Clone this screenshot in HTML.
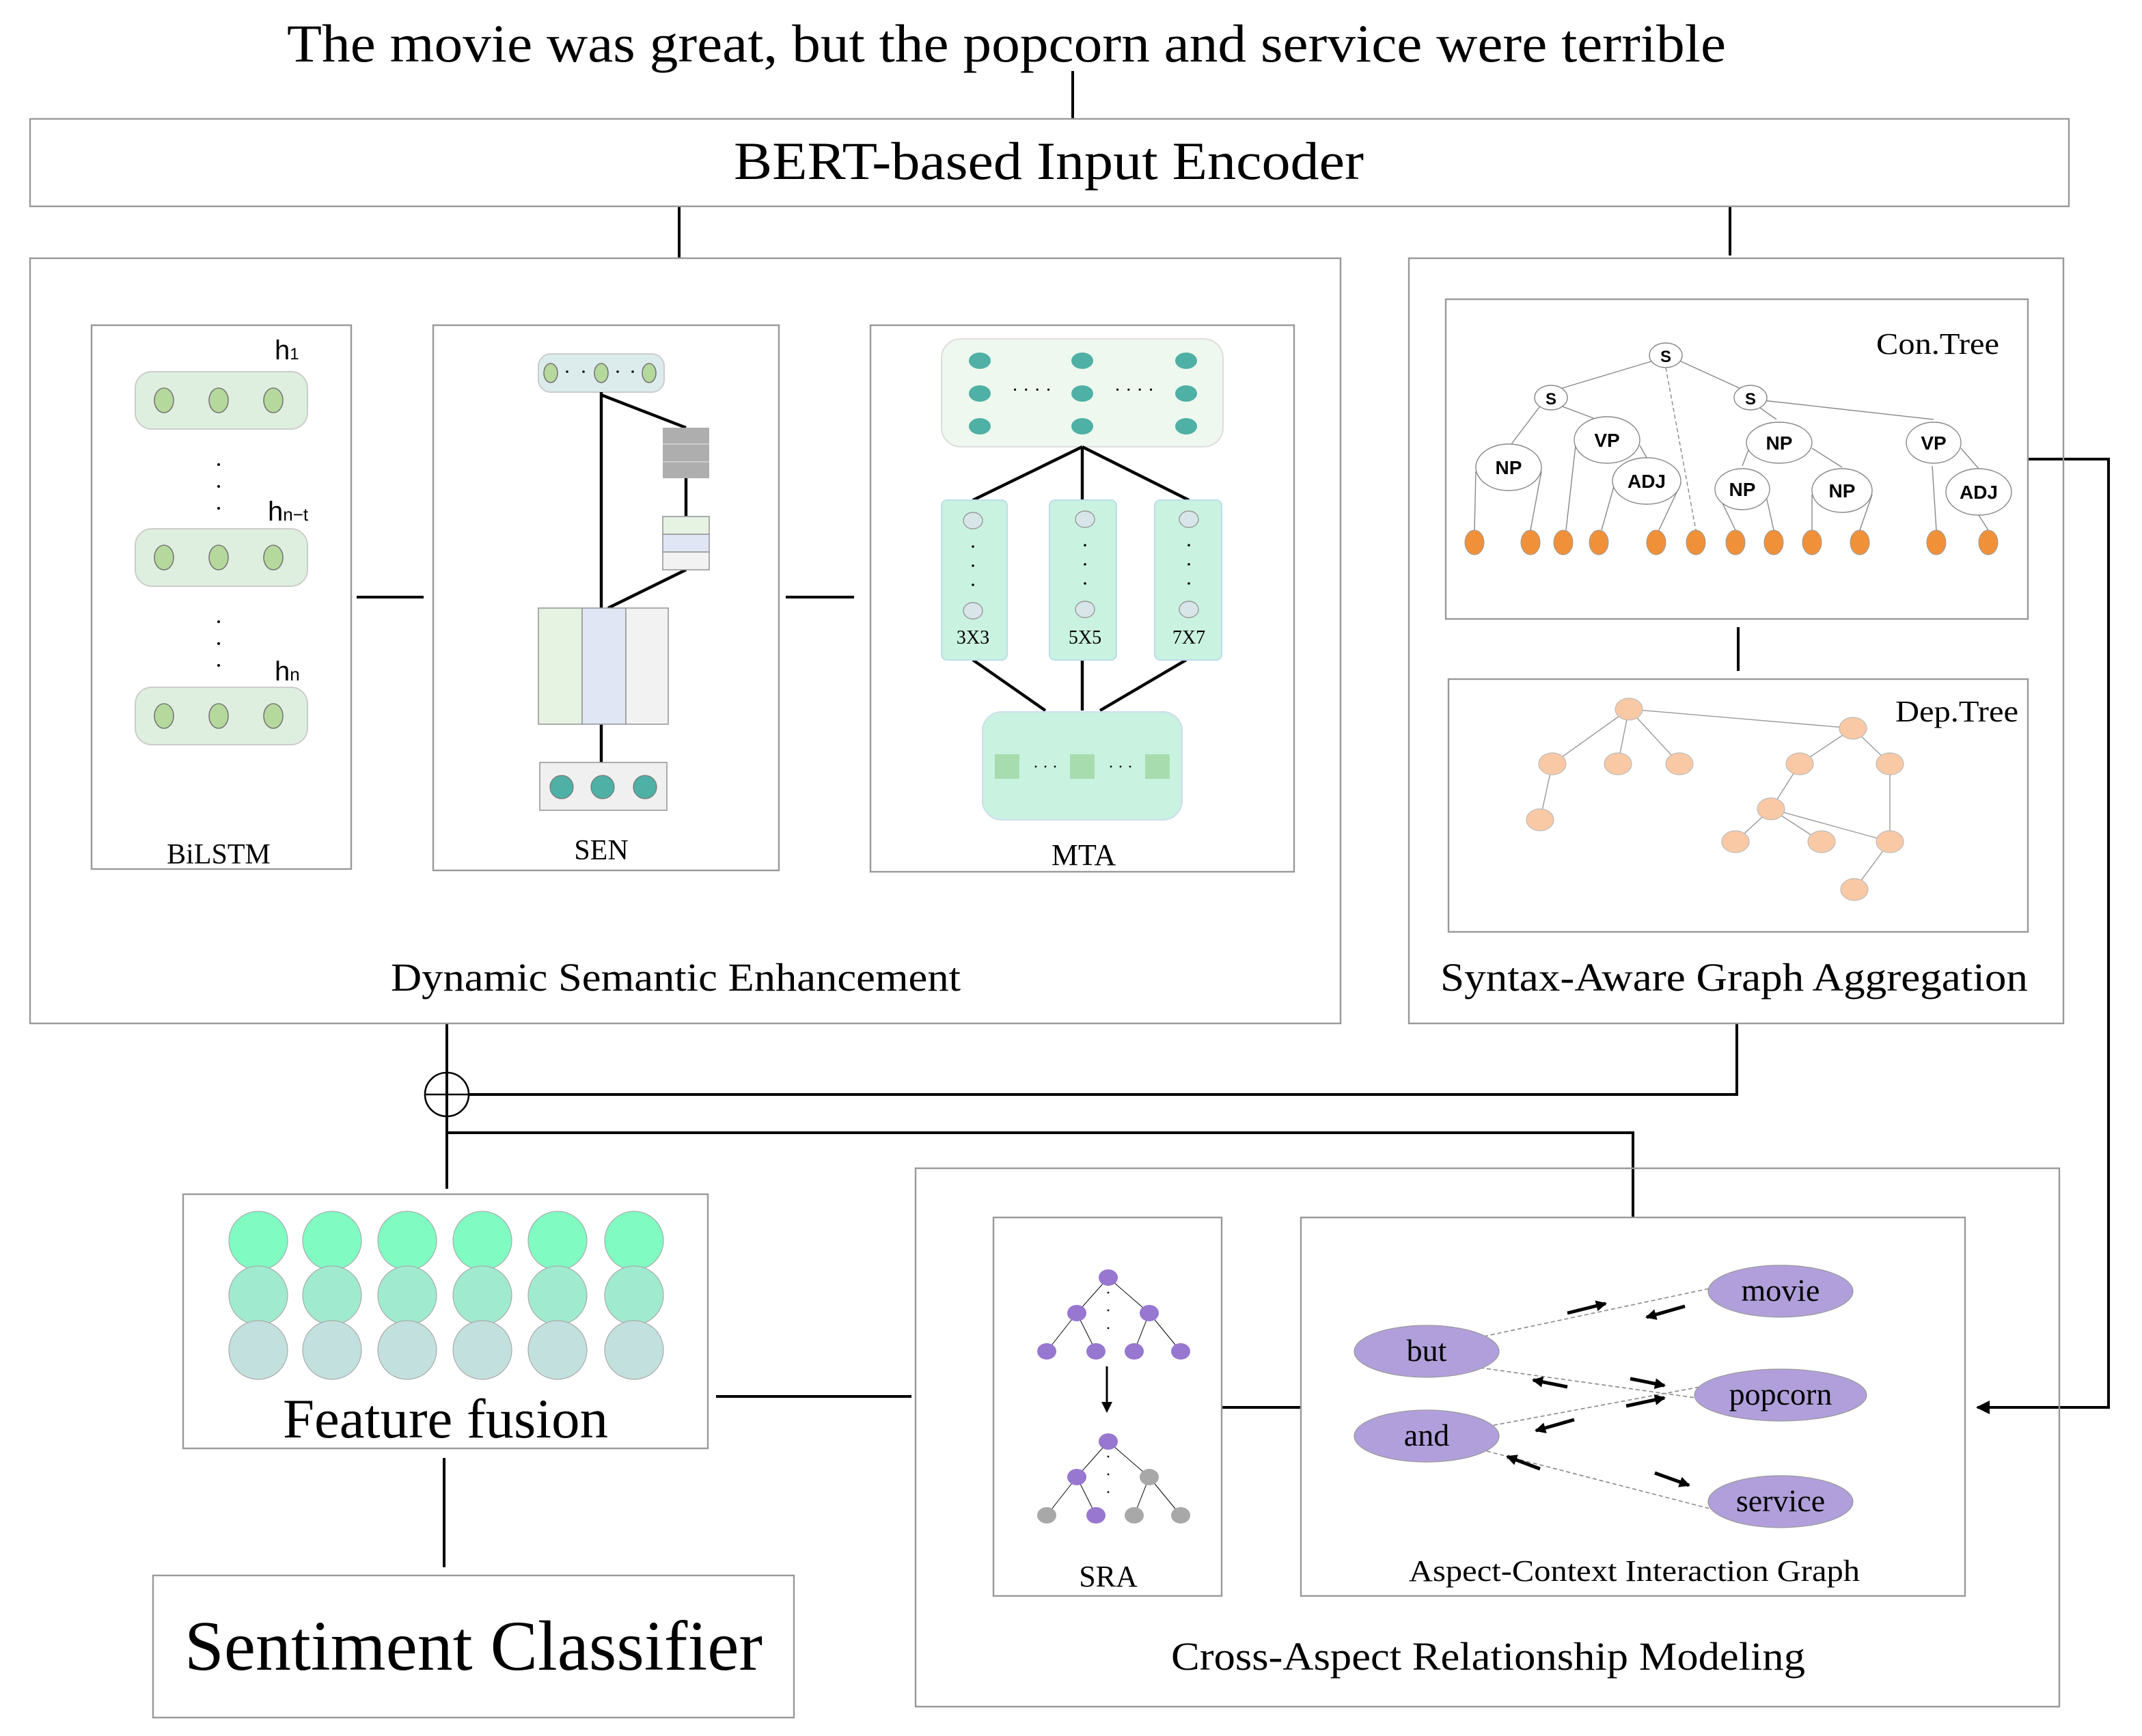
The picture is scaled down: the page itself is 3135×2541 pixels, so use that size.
<!DOCTYPE html>
<html><head><meta charset="utf-8"><style>html,body{margin:0;padding:0;background:#fff}svg{display:block}</style></head>
<body>
<svg width="3135" height="2541" viewBox="0 0 1567.5 1270.5" xmlns="http://www.w3.org/2000/svg" font-family="Liberation Serif, serif">
<rect width="1567.5" height="1270.5" fill="#fff"/>
<defs><marker id="ah" markerWidth="10" markerHeight="10" refX="9" refY="5" orient="auto" markerUnits="userSpaceOnUse"><path d="M0,0 L10,5 L0,10 z" fill="#000"/></marker>
<marker id="ah2" markerWidth="8" markerHeight="8" refX="7" refY="4" orient="auto" markerUnits="userSpaceOnUse"><path d="M0,0 L8,4 L0,8 z" fill="#000"/></marker></defs>
<text x="210" y="45" font-size="39" textLength="1053" lengthAdjust="spacingAndGlyphs">The movie was great, but the popcorn and service were terrible</text>
<g stroke="#000" stroke-width="2" fill="none">
<line x1="785" y1="52" x2="785" y2="87"/>
<line x1="497" y1="151" x2="497" y2="189"/>
<line x1="1266" y1="151" x2="1266" y2="187"/>
<line x1="261" y1="437" x2="310" y2="437"/>
<line x1="575" y1="437" x2="625" y2="437"/>
<line x1="1272" y1="459" x2="1272" y2="491"/>
<polyline points="1484,336 1543,336 1543,1030 1447,1030" marker-end="url(#ah)"/>
<polyline points="1271,749 1271,801 343,801"/>
<line x1="327" y1="749" x2="327" y2="870"/>
<polyline points="327,829 1195,829 1195,891"/>
<line x1="524" y1="1022" x2="667" y2="1022"/>
<line x1="325" y1="1067" x2="325" y2="1147"/>
<line x1="894" y1="1030" x2="952" y2="1030"/>
<circle cx="327" cy="801" r="16" stroke-width="1.3"/>
<line x1="311" y1="801" x2="343" y2="801" stroke-width="1.3"/>
</g>
<g fill="none" stroke="#999" stroke-width="1.2">
<rect x="22" y="87" width="1492" height="64"/>
<rect x="22" y="189" width="959" height="560"/>
<rect x="67" y="238" width="190" height="398"/>
<rect x="317" y="238" width="253" height="399"/>
<rect x="637" y="238" width="310" height="400"/>
<rect x="1031" y="189" width="479" height="560"/>
<rect x="1058" y="219" width="426" height="234"/>
<rect x="1060" y="497" width="424" height="185"/>
<rect x="134" y="874" width="384" height="186"/>
<rect x="112" y="1153" width="469" height="104"/>
<rect x="670" y="855" width="837" height="394"/>
<rect x="727" y="891" width="167" height="277"/>
<rect x="952" y="891" width="486" height="277"/>
</g>
<text x="537" y="131" font-size="39" textLength="461" lengthAdjust="spacingAndGlyphs">BERT-based Input Encoder</text>
<text x="286" y="725" font-size="29" textLength="417" lengthAdjust="spacingAndGlyphs">Dynamic Semantic Enhancement</text>
<text x="1054" y="725" font-size="29" textLength="430" lengthAdjust="spacingAndGlyphs">Syntax-Aware Graph Aggregation</text>
<text x="857" y="1222" font-size="29" textLength="464" lengthAdjust="spacingAndGlyphs">Cross-Aspect Relationship Modeling</text>
<text x="207" y="1052" font-size="41" textLength="238" lengthAdjust="spacingAndGlyphs">Feature fusion</text>
<text x="135" y="1222" font-size="52" textLength="423" lengthAdjust="spacingAndGlyphs">Sentiment Classifier</text>
<!-- BiLSTM -->
<g>
<g fill="#deefdf" stroke="#ccc"><rect x="99" y="272" width="126" height="42" rx="12"/><rect x="99" y="387" width="126" height="42" rx="12"/><rect x="99" y="503" width="126" height="42" rx="12"/></g>
<g fill="#b5d99c" stroke="#777" stroke-width="0.8">
<ellipse cx="120" cy="293" rx="7" ry="9"/><ellipse cx="160" cy="293" rx="7" ry="9"/><ellipse cx="200" cy="293" rx="7" ry="9"/>
<ellipse cx="120" cy="408" rx="7" ry="9"/><ellipse cx="160" cy="408" rx="7" ry="9"/><ellipse cx="200" cy="408" rx="7" ry="9"/>
<ellipse cx="120" cy="524" rx="7" ry="9"/><ellipse cx="160" cy="524" rx="7" ry="9"/><ellipse cx="200" cy="524" rx="7" ry="9"/></g>
<g fill="#000"><circle cx="160" cy="340" r="1"/><circle cx="160" cy="356" r="1"/><circle cx="160" cy="372" r="1"/><circle cx="160" cy="455" r="1"/><circle cx="160" cy="471" r="1"/><circle cx="160" cy="487" r="1"/></g>
<g font-family="Liberation Sans, sans-serif" font-size="20"><text x="201" y="263">h<tspan font-size="12">1</tspan></text><text x="196" y="381">h<tspan font-size="13">n−t</tspan></text><text x="201" y="498">h<tspan font-size="13">n</tspan></text></g>
<text x="160" y="632" font-size="21" text-anchor="middle">BiLSTM</text>
</g>
<!-- SEN -->
<g>
<rect x="394" y="259" width="92" height="28" rx="9" fill="#dcecec" stroke="#ccc"/>
<g fill="#b5d99c" stroke="#777" stroke-width="0.8"><ellipse cx="403" cy="273" rx="5" ry="7"/><ellipse cx="440" cy="273" rx="5" ry="7"/><ellipse cx="475" cy="273" rx="5" ry="7"/></g>
<g fill="#000"><circle cx="415" cy="272" r="0.9"/><circle cx="427" cy="272" r="0.9"/><circle cx="452" cy="272" r="0.9"/><circle cx="463" cy="272" r="0.9"/></g>
<g stroke="#000" stroke-width="2.2"><line x1="440" y1="287" x2="440" y2="445"/><line x1="440" y1="289" x2="502" y2="313"/><line x1="502" y1="350" x2="502" y2="378"/><line x1="502" y1="417" x2="445" y2="445"/><line x1="440" y1="530" x2="440" y2="558"/></g>
<rect x="485" y="313" width="34" height="37" fill="#aeaeae"/>
<g stroke="#ccc"><line x1="485" y1="325" x2="519" y2="325"/><line x1="485" y1="338" x2="519" y2="338"/></g>
<rect x="485" y="378" width="34" height="13" fill="#e6f2e2" stroke="#999" stroke-width="0.8"/>
<rect x="485" y="391" width="34" height="13" fill="#e0e6f4" stroke="#999" stroke-width="0.8"/>
<rect x="485" y="404" width="34" height="13" fill="#f2f2f2" stroke="#999" stroke-width="0.8"/>
<rect x="394" y="445" width="32" height="85" fill="#e6f2e2" stroke="#999" stroke-width="0.8"/>
<rect x="426" y="445" width="32" height="85" fill="#e0e6f4" stroke="#999" stroke-width="0.8"/>
<rect x="458" y="445" width="31" height="85" fill="#f2f2f2" stroke="#999" stroke-width="0.8"/>
<rect x="395" y="558" width="93" height="35" fill="#f0f0f0" stroke="#999" stroke-width="0.8"/>
<g fill="#4fb0a5" stroke="#777" stroke-width="0.6"><circle cx="411" cy="576" r="8.5"/><circle cx="441" cy="576" r="8.5"/><circle cx="472" cy="576" r="8.5"/></g>
<text x="440" y="629" font-size="21" text-anchor="middle">SEN</text>
</g>
<!-- MTA -->
<g>
<rect x="689" y="248" width="206" height="79" rx="14" fill="#eef8ee" stroke="#ddd"/>
<g fill="#4fb0a5">
<ellipse cx="717" cy="264" rx="8" ry="6"/><ellipse cx="717" cy="288" rx="8" ry="6"/><ellipse cx="717" cy="312" rx="8" ry="6"/>
<ellipse cx="792" cy="264" rx="8" ry="6"/><ellipse cx="792" cy="288" rx="8" ry="6"/><ellipse cx="792" cy="312" rx="8" ry="6"/>
<ellipse cx="868" cy="264" rx="8" ry="6"/><ellipse cx="868" cy="288" rx="8" ry="6"/><ellipse cx="868" cy="312" rx="8" ry="6"/></g>
<text x="755" y="290" font-size="14" text-anchor="middle">· · · ·</text><text x="830" y="290" font-size="14" text-anchor="middle">· · · ·</text>
<g stroke="#000" stroke-width="2.2"><line x1="792" y1="327" x2="712" y2="366"/><line x1="792" y1="327" x2="792" y2="366"/><line x1="792" y1="327" x2="870" y2="366"/>
<line x1="712" y1="483" x2="765" y2="520"/><line x1="792" y1="483" x2="792" y2="520"/><line x1="868" y1="483" x2="805" y2="520"/></g>
<g fill="#c9f2e1" stroke="#bde"><rect x="689" y="366" width="48" height="117" rx="4"/><rect x="768" y="366" width="49" height="117" rx="4"/><rect x="845" y="366" width="49" height="117" rx="4"/></g>
<g fill="#d8e6ea" stroke="#999" stroke-width="0.7">
<ellipse cx="712" cy="381" rx="7" ry="6"/><ellipse cx="712" cy="447" rx="7" ry="6"/>
<ellipse cx="794" cy="380" rx="7" ry="6"/><ellipse cx="794" cy="446" rx="7" ry="6"/>
<ellipse cx="870" cy="380" rx="7" ry="6"/><ellipse cx="870" cy="446" rx="7" ry="6"/></g>
<g fill="#000"><circle cx="712" cy="400" r="0.9"/><circle cx="712" cy="414" r="0.9"/><circle cx="712" cy="428" r="0.9"/><circle cx="794" cy="399" r="0.9"/><circle cx="794" cy="413" r="0.9"/><circle cx="794" cy="427" r="0.9"/><circle cx="870" cy="399" r="0.9"/><circle cx="870" cy="413" r="0.9"/><circle cx="870" cy="427" r="0.9"/></g>
<g font-size="14" text-anchor="middle"><text x="712" y="471">3X3</text><text x="794" y="471">5X5</text><text x="870" y="471">7X7</text></g>
<rect x="719" y="521" width="146" height="79" rx="14" fill="#c9f2e1" stroke="#cde"/>
<g fill="#a7dcae"><rect x="728" y="552" width="18" height="18"/><rect x="783" y="552" width="18" height="18"/><rect x="838" y="552" width="18" height="18"/></g>
<text x="765" y="565" font-size="12" text-anchor="middle">· · ·</text><text x="820" y="565" font-size="12" text-anchor="middle">· · ·</text>
<text x="793" y="633" font-size="22" text-anchor="middle">MTA</text>
</g>
<!-- Con tree -->
<g stroke="#888" stroke-width="0.7" fill="none">
<line x1="1210" y1="264" x2="1140" y2="285"/><line x1="1229" y1="264" x2="1275" y2="285"/>
<line x1="1219" y1="269" x2="1241" y2="388" stroke-dasharray="3,2"/>
<line x1="1128" y1="296" x2="1106" y2="325"/><line x1="1142" y1="297" x2="1166" y2="306"/>
<line x1="1080" y1="345" x2="1079" y2="388"/><line x1="1128" y1="345" x2="1120" y2="388"/>
<line x1="1153" y1="326" x2="1146" y2="388"/><line x1="1200" y1="326" x2="1205" y2="335"/>
<line x1="1181" y1="356" x2="1172" y2="388"/><line x1="1229" y1="356" x2="1214" y2="388"/>
<line x1="1286" y1="297" x2="1300" y2="307"/><line x1="1290" y1="293" x2="1415" y2="307"/>
<line x1="1280" y1="328" x2="1275" y2="341"/><line x1="1326" y1="328" x2="1348" y2="342"/>
<line x1="1257" y1="361" x2="1270" y2="388"/><line x1="1292" y1="361" x2="1298" y2="388"/>
<line x1="1326" y1="362" x2="1326" y2="388"/><line x1="1370" y1="362" x2="1361" y2="388"/>
<line x1="1414" y1="341" x2="1417" y2="388"/><line x1="1435" y1="328" x2="1448" y2="343"/>
<line x1="1448" y1="377" x2="1455" y2="388"/>
</g>
<g fill="#fff" stroke="#888" stroke-width="0.7">
<ellipse cx="1219" cy="260" rx="12" ry="9"/><ellipse cx="1135" cy="291" rx="12" ry="9"/><ellipse cx="1281" cy="291" rx="12" ry="9"/>
<ellipse cx="1104" cy="342" rx="24" ry="17"/><ellipse cx="1176" cy="322" rx="24" ry="17"/><ellipse cx="1205" cy="352" rx="25" ry="17"/>
<ellipse cx="1302" cy="324" rx="24" ry="15"/><ellipse cx="1275" cy="358" rx="20" ry="15"/><ellipse cx="1348" cy="359" rx="22" ry="16"/>
<ellipse cx="1415" cy="324" rx="20" ry="15"/><ellipse cx="1448" cy="360" rx="24" ry="17"/></g>
<g font-family="Liberation Sans, sans-serif" font-weight="bold" font-size="14" text-anchor="middle">
<text x="1219" y="265" font-size="12">S</text><text x="1135" y="296" font-size="12">S</text><text x="1281" y="296" font-size="12">S</text>
<text x="1104" y="347">NP</text><text x="1176" y="327">VP</text><text x="1205" y="357">ADJ</text>
<text x="1302" y="329">NP</text><text x="1275" y="363">NP</text><text x="1348" y="364">NP</text>
<text x="1415" y="329">VP</text><text x="1448" y="365">ADJ</text></g>
<g fill="#f0913a" stroke="#999" stroke-width="0.5">
<ellipse cx="1079" cy="397" rx="7" ry="9"/><ellipse cx="1120" cy="397" rx="7" ry="9"/><ellipse cx="1144" cy="397" rx="7" ry="9"/><ellipse cx="1170" cy="397" rx="7" ry="9"/>
<ellipse cx="1212" cy="397" rx="7" ry="9"/><ellipse cx="1241" cy="397" rx="7" ry="9"/><ellipse cx="1270" cy="397" rx="7" ry="9"/><ellipse cx="1298" cy="397" rx="7" ry="9"/>
<ellipse cx="1326" cy="397" rx="7" ry="9"/><ellipse cx="1361" cy="397" rx="7" ry="9"/><ellipse cx="1417" cy="397" rx="7" ry="9"/><ellipse cx="1455" cy="397" rx="7" ry="9"/></g>
<text x="1373" y="259" font-size="22" textLength="90" lengthAdjust="spacingAndGlyphs">Con.Tree</text>
<!-- Dep tree -->
<g stroke="#999" stroke-width="0.7">
<line x1="1192" y1="519" x2="1136" y2="559"/><line x1="1192" y1="519" x2="1184" y2="559"/><line x1="1192" y1="519" x2="1229" y2="559"/><line x1="1192" y1="519" x2="1356" y2="533"/>
<line x1="1136" y1="559" x2="1127" y2="600"/><line x1="1356" y1="533" x2="1317" y2="559"/><line x1="1356" y1="533" x2="1383" y2="559"/>
<line x1="1317" y1="559" x2="1296" y2="592"/><line x1="1296" y1="592" x2="1270" y2="616"/><line x1="1296" y1="592" x2="1333" y2="616"/><line x1="1296" y1="592" x2="1383" y2="616"/>
<line x1="1383" y1="559" x2="1383" y2="616"/><line x1="1383" y1="616" x2="1357" y2="651"/></g>
<g fill="#f9c9a5" stroke="#bbb" stroke-width="0.6">
<ellipse cx="1192" cy="519" rx="10" ry="8"/><ellipse cx="1136" cy="559" rx="10" ry="8"/><ellipse cx="1184" cy="559" rx="10" ry="8"/><ellipse cx="1229" cy="559" rx="10" ry="8"/>
<ellipse cx="1356" cy="533" rx="10" ry="8"/><ellipse cx="1127" cy="600" rx="10" ry="8"/><ellipse cx="1317" cy="559" rx="10" ry="8"/><ellipse cx="1383" cy="559" rx="10" ry="8"/>
<ellipse cx="1296" cy="592" rx="10" ry="8"/><ellipse cx="1270" cy="616" rx="10" ry="8"/><ellipse cx="1333" cy="616" rx="10" ry="8"/><ellipse cx="1383" cy="616" rx="10" ry="8"/><ellipse cx="1357" cy="651" rx="10" ry="8"/></g>
<text x="1387" y="528" font-size="22" textLength="90" lengthAdjust="spacingAndGlyphs">Dep.Tree</text>
<!-- Feature fusion circles -->
<g stroke="#aaa" stroke-width="0.6">
<g fill="#80fbc2"><circle cx="189" cy="908" r="21.5"/><circle cx="243" cy="908" r="21.5"/><circle cx="298" cy="908" r="21.5"/><circle cx="353" cy="908" r="21.5"/><circle cx="408" cy="908" r="21.5"/><circle cx="464" cy="908" r="21.5"/></g>
<g fill="#a0ead0"><circle cx="189" cy="948" r="21.5"/><circle cx="243" cy="948" r="21.5"/><circle cx="298" cy="948" r="21.5"/><circle cx="353" cy="948" r="21.5"/><circle cx="408" cy="948" r="21.5"/><circle cx="464" cy="948" r="21.5"/></g>
<g fill="#c2e0de"><circle cx="189" cy="988" r="21.5"/><circle cx="243" cy="988" r="21.5"/><circle cx="298" cy="988" r="21.5"/><circle cx="353" cy="988" r="21.5"/><circle cx="408" cy="988" r="21.5"/><circle cx="464" cy="988" r="21.5"/></g>
</g>
<!-- SRA -->
<g stroke="#000" stroke-width="0.5">
<line x1="811" y1="935" x2="788" y2="961"/><line x1="811" y1="935" x2="841" y2="961"/><line x1="788" y1="961" x2="766" y2="989"/><line x1="788" y1="961" x2="802" y2="989"/><line x1="841" y1="961" x2="830" y2="989"/><line x1="841" y1="961" x2="864" y2="989"/>
<line x1="811" y1="1055" x2="788" y2="1081"/><line x1="811" y1="1055" x2="841" y2="1081"/><line x1="788" y1="1081" x2="766" y2="1109"/><line x1="788" y1="1081" x2="802" y2="1109"/><line x1="841" y1="1081" x2="830" y2="1109"/><line x1="841" y1="1081" x2="864" y2="1109"/></g>
<g fill="#000"><circle cx="811" cy="946" r="0.7"/><circle cx="811" cy="959" r="0.7"/><circle cx="811" cy="972" r="0.7"/><circle cx="811" cy="1066" r="0.7"/><circle cx="811" cy="1079" r="0.7"/><circle cx="811" cy="1092" r="0.7"/></g>
<g fill="#9777cf">
<ellipse cx="811" cy="935" rx="7" ry="6"/><ellipse cx="788" cy="961" rx="7" ry="6"/><ellipse cx="841" cy="961" rx="7" ry="6"/>
<ellipse cx="766" cy="989" rx="7" ry="6"/><ellipse cx="802" cy="989" rx="7" ry="6"/><ellipse cx="830" cy="989" rx="7" ry="6"/><ellipse cx="864" cy="989" rx="7" ry="6"/>
<ellipse cx="811" cy="1055" rx="7" ry="6"/><ellipse cx="788" cy="1081" rx="7" ry="6"/><ellipse cx="802" cy="1109" rx="7" ry="6"/></g>
<g fill="#a8a8a8"><ellipse cx="841" cy="1081" rx="7" ry="6"/><ellipse cx="766" cy="1109" rx="7" ry="6"/><ellipse cx="830" cy="1109" rx="7" ry="6"/><ellipse cx="864" cy="1109" rx="7" ry="6"/></g>
<line x1="810" y1="1000" x2="810" y2="1033" stroke="#000" stroke-width="1.5" marker-end="url(#ah2)"/>
<text x="811" y="1161" font-size="22" text-anchor="middle">SRA</text>
<!-- ACIG -->
<g stroke="#888" stroke-width="0.8" stroke-dasharray="3,2">
<line x1="1086" y1="978" x2="1251" y2="943"/><line x1="1083" y1="1001" x2="1241" y2="1023"/><line x1="1088" y1="1044" x2="1244" y2="1015"/><line x1="1088" y1="1062" x2="1251" y2="1104"/></g>
<g stroke="#000" stroke-width="2.5">
<line x1="1147" y1="961" x2="1175" y2="954" marker-end="url(#ah2)"/><line x1="1233" y1="956" x2="1205" y2="964" marker-end="url(#ah2)"/>
<line x1="1193" y1="1009" x2="1218" y2="1014" marker-end="url(#ah2)"/><line x1="1147" y1="1015" x2="1122" y2="1010" marker-end="url(#ah2)"/>
<line x1="1190" y1="1029" x2="1218" y2="1023" marker-end="url(#ah2)"/><line x1="1152" y1="1039" x2="1124" y2="1047" marker-end="url(#ah2)"/>
<line x1="1127" y1="1075" x2="1103" y2="1066" marker-end="url(#ah2)"/><line x1="1211" y1="1078" x2="1236" y2="1087" marker-end="url(#ah2)"/></g>
<g fill="#b19fdb" stroke="#999" stroke-width="0.6">
<ellipse cx="1303" cy="945" rx="53" ry="19"/><ellipse cx="1044" cy="989" rx="53" ry="19"/><ellipse cx="1303" cy="1021" rx="63" ry="19"/><ellipse cx="1044" cy="1051" rx="53" ry="19"/><ellipse cx="1303" cy="1099" rx="53" ry="19"/></g>
<g font-size="23" text-anchor="middle"><text x="1303" y="952">movie</text><text x="1044" y="996">but</text><text x="1303" y="1028">popcorn</text><text x="1044" y="1058">and</text><text x="1303" y="1106">service</text></g>
<text x="1031" y="1157" font-size="22" textLength="330" lengthAdjust="spacingAndGlyphs">Aspect-Context Interaction Graph</text>
</svg>
</body></html>
